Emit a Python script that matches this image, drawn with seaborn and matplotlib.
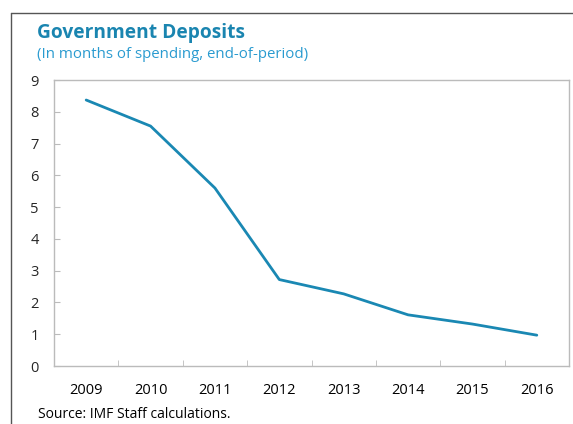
import matplotlib
matplotlib.use("Agg")
import matplotlib.pyplot as plt
import numpy as np
import pandas as pd
import seaborn as sns
from matplotlib.lines import Line2D

# Data
years = [2009, 2010, 2011, 2012, 2013, 2014, 2015, 2016]
deposits = [8.37, 7.55, 5.6, 2.72, 2.27, 1.61, 1.32, 0.97]

title = "Government Deposits"
subtitle = "(In months of spending, end-of-period)"
source = "Source: IMF Staff calculations."

line_color = "#1a88b3"
title_color = "#1a85b0"
sub_color = "#2a9bd0"

sns.set_style("white")
plt.rcParams["font.family"] = ["Open Sans", "DejaVu Sans"]

df = pd.DataFrame({"year": years, "deposits": deposits})

W, H = 573, 424
fig = plt.figure(figsize=(W / 100, H / 100), dpi=100)
ax = fig.add_axes([54 / W, (H - 366) / H, (569 - 54) / W, (366 - 80) / H])

sns.lineplot(data=df, x="year", y="deposits", ax=ax, color=line_color, linewidth=2)

ax.set_xlim(years[0] - 0.5, years[-1] + 0.5)
ax.set_ylim(0, 9)
ax.set_yticks(range(0, 10))
ax.set_xticks(years)
ax.set_xticks(np.arange(years[0] - 0.5, years[-1] + 1, 1), minor=True)
ax.set_xlabel("")
ax.set_ylabel("")
ax.tick_params(axis="x", which="major", length=0, pad=12, labelsize=10.5, colors="black")
ax.tick_params(axis="x", which="minor", length=4, direction="in", color="#bbbbbb", bottom=True)
ax.tick_params(axis="y", length=4, direction="in", color="#bbbbbb", pad=14, labelsize=10.5, left=True)
for lab in ax.get_yticklabels():
    lab.set_horizontalalignment("center")
for side in ["left", "right", "top", "bottom"]:
    ax.spines[side].set_color("#bbbbbb")
    ax.spines[side].set_linewidth(1)

# outer frame (left + top)
fig.add_artist(Line2D([11 / W, 11 / W], [0, 1 - 13 / H], transform=fig.transFigure, color="#555555", lw=1))
fig.add_artist(Line2D([11 / W, 1], [1 - 13 / H, 1 - 13 / H], transform=fig.transFigure, color="#555555", lw=1))

fig.text(37 / W, 1 - 33 / H, title, fontsize=13.8, fontweight="bold", color=title_color, va="center", ha="left")
fig.text(37 / W, 1 - 54 / H, subtitle, fontsize=10.8, color=sub_color, va="center", ha="left")
fig.text(38 / W, 1 - 415 / H, source, fontsize=10, color="black", va="center", ha="left")

fig.savefig("out.png", dpi=100)
